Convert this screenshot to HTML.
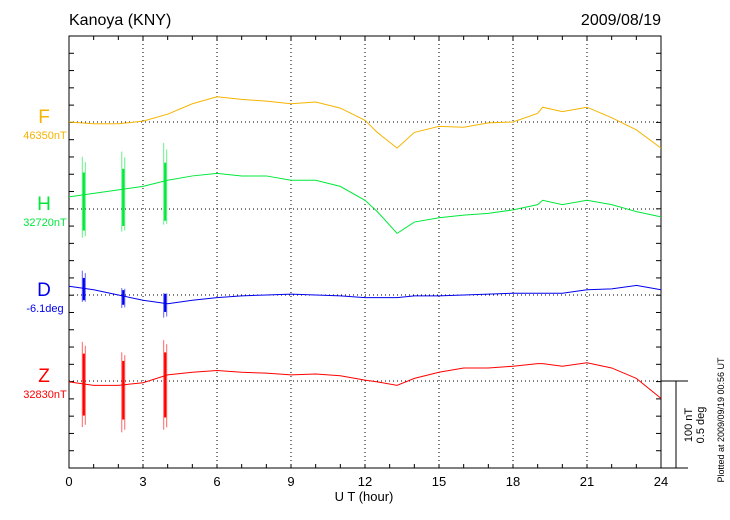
<!DOCTYPE html>
<html><head><meta charset="utf-8"><style>
body{margin:0;background:#fff;width:730px;height:520px;overflow:hidden}
svg{display:block;font-family:"Liberation Sans",sans-serif}
</style></head><body>
<svg id="chart" width="730" height="520">
<text x="69" y="25" font-size="16">Kanoya (KNY)</text>
<text x="661" y="25" font-size="16" text-anchor="end">2009/08/19</text>
<text x="364" y="501" font-size="13" text-anchor="middle">U T (hour)</text>
<text transform="translate(724,420) rotate(-90)" font-size="9" text-anchor="middle">Plotted at 2009/09/19 00:56 UT</text>
<text transform="translate(692,425) rotate(-90)" font-size="11" text-anchor="middle"><tspan x="0" dy="0">100 nT</tspan><tspan x="0" dy="12">0.5 deg</tspan></text>
<g id="g"></g>
</svg>
<script>
const hours=[0,1,2,3,4,5,6,7,8,9,10,11,12,12.5,13.3,14,15,16,17,18,19,19.2,20,21,22,23,24];
const seriesNames=["F","H","D","Z"];
const baseLabels=["46350nT","32720nT","-6.1deg","32830nT"];
const valuesF=[0,-2,-2,1,9,21,29,26,24,21,23,16,2,-12,-30,-12,-5,-6,-1,0,10,17,12,17,5,-9,-30];
const valuesH=[14,18,22,26,33,38,41,38,38,33,33,26,10,-3,-28,-15,-10,-7,-5,-1,5,10,5,10,5,-3,-9];
const valuesD=[10,6,0,-6,-10,-6,-3,-1,0,1,0,-1,-3,-3,-3,-1,-1,0,1,2,2,2,2,6,7,11,6];
const valuesZ=[-1,-5,-5,-2,7,10,12,10,9,7,8,6,1,-1,-5,3,10,15,15,17,20,20,17,21,15,3,-20];
const spikeHours=[0.6,2.2,3.9];
const spikeMaxH=[60,66,76], spikeMinH=[-33,-26,-18];
const spikeMaxD=[28,8,2], spikeMinD=[-8,-15,-26];
const spikeMaxZ=[45,33,47], spikeMinZ=[-53,-59,-56];
const xTicks=[0,3,6,9,12,15,18,21,24];
const colors=["#f5b400","#00e83a","#0000ee","#ff0000"];
const L=69,R=661,T=36,B=468,step=17.28;
const baseY=[122,209,295,381];
const x=h=>L+(R-L)*h/24;
const y=(i,v)=>baseY[i]-v*87/100;
const g=document.getElementById('g');const NS='http://www.w3.org/2000/svg';
function mk(t,a,p){const e=document.createElementNS(NS,t);for(const k in a)e.setAttribute(k,a[k]);(p||g).appendChild(e);return e;}
xTicks.slice(1,-1).forEach(h=>{const e=mk('line',{x1:x(h),x2:x(h),y1:T,y2:B,stroke:'#000','stroke-dasharray':'1,3','stroke-width':1});

});
baseY.forEach(b=>{const e=mk('line',{x1:L,x2:R,y1:b,y2:b,stroke:'#000','stroke-dasharray':'1,3','stroke-width':1});

});
const fr=mk('rect',{x:L,y:T,width:R-L,height:B-T,fill:'none',stroke:'#000','stroke-width':1});


for(let h=1;h<24;h++){mk('line',{x1:x(h),x2:x(h),y1:T,y2:T+4,stroke:'#000'});mk('line',{x1:x(h),x2:x(h),y1:B,y2:B-4,stroke:'#000'});}
for(let k=1;k<25;k++){const yy=T+k*step;mk('line',{x1:L,x2:L+5,y1:yy,y2:yy,stroke:'#000'});mk('line',{x1:R,x2:R-5,y1:yy,y2:yy,stroke:'#000'});}
xTicks.forEach(h=>{const t=mk('text',{x:x(h),y:486,'font-size':13,'text-anchor':'middle'});t.textContent=h;

});
mk('line',{x1:R,x2:688,y1:381,y2:381,stroke:'#000'});mk('line',{x1:R,x2:688,y1:B,y2:B,stroke:'#000'});
const sb=mk('line',{x1:676,x2:676,y1:381,y2:B,stroke:'#000'});


const vals=[valuesF,valuesH,valuesD,valuesZ];
const smax=[null,spikeMaxH,spikeMaxD,spikeMaxZ],smin=[null,spikeMinH,spikeMinD,spikeMinZ];
vals.forEach((v,i)=>{
 const p=mk('polyline',{points:hours.map((h,j)=>x(h)+','+y(i,v[j])).join(' '),fill:'none',stroke:colors[i],'stroke-width':1});
 
 
 if(smax[i])spikeHours.forEach((h,k)=>{
  [[-1.5,1,1,0.6,1],[0,0.7,0.75,1,2.2],[1.5,0.9,0.95,0.6,1]].forEach(([d,fa,fb,op,w])=>{
   const e=mk('line',{x1:x(h)+d,x2:x(h)+d,y1:y(i,smax[i][k]*fa),y2:y(i,smin[i][k]*fb),stroke:colors[i],'stroke-width':w,'stroke-opacity':op});
   
   });
 });
 const n=mk('text',{x:44,y:baseY[i]+1,'font-size':19,'text-anchor':'middle',fill:colors[i]});n.textContent=seriesNames[i];
 
 
 const b=mk('text',{x:45,y:baseY[i]+17,'font-size':11,'text-anchor':'middle',fill:colors[i]});b.textContent=baseLabels[i];
 
 
});
</script>
</body></html>
